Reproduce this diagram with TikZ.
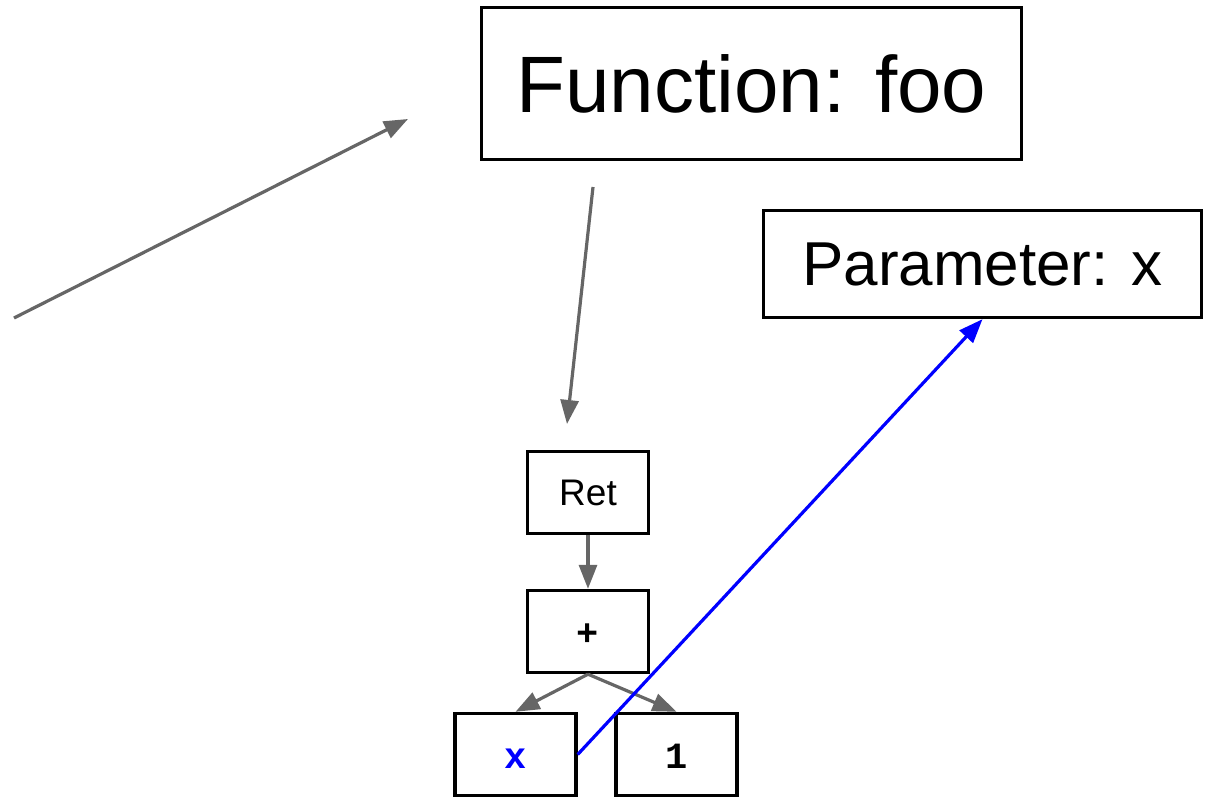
\documentclass[tikz,border=0pt]{standalone}
\usepackage{fontspec}
\setmainfont{Liberation Sans}
\newfontfamily\codefont{Liberation Mono}
\usetikzlibrary{arrows.meta}
\definecolor{edgegray}{HTML}{666666}
\definecolor{refblue}{HTML}{0000FF}
\tikzset{
  box/.style={draw=black, line width=3.4pt, fill=white, inner sep=0pt},
  treebox/.style={box, minimum width=121pt, minimum height=82pt, font=\fontsize{37}{40}\selectfont},
  codebox/.style={treebox, font=\codefont\bfseries\fontsize{37}{40}\selectfont,
                  text height=27pt, text depth=0pt},
  link/.style={draw=edgegray, line width=3.2pt, -{Triangle[length=24pt,width=18pt]}},
  ref/.style={draw=refblue, line width=3.2pt, -{Triangle[length=24pt,width=18pt]}},
}
\begin{document}
\begin{tikzpicture}[x=1pt,y=-1pt]
\useasboundingbox (0,0) rectangle (1211,799);

% top-level declarations
\node[box, minimum width=540pt, minimum height=152pt,
      font=\fontsize{80}{90}\selectfont] (fn) at (751.5,83.5) {Function: foo};
\node[box, minimum width=438pt, minimum height=107pt,
      font=\fontsize{62}{72}\selectfont] (param) at (982.5,264) {Parameter: x};

% expression tree of the body
\node[treebox] (ret) at (588,492.5) {Ret};
\node[codebox] (plus) at (588,631.5) {+};
\node[codebox, text=refblue] (xvar) at (515.5,754.5) {x};
\node[codebox] (one) at (676.5,754.5) {1};

% loose pointers into and out of the function
\coordinate (inA) at (14,318);
\coordinate (inB) at (408,119);
\coordinate (bodyA) at (593,187);
\coordinate (bodyB) at (567,424);
\draw[link] (inA) -- (inB);
\draw[link] (bodyA) -- (bodyB);

% tree edges
\draw[link] (ret.south) -- (plus.north);
\draw[link] (plus.south) -- (xvar.north);
\draw[link] (plus.south) -- (one.north);

% variable use resolves to its parameter
\draw[ref] (xvar.east) -- (param.south);
\end{tikzpicture}
\end{document}
